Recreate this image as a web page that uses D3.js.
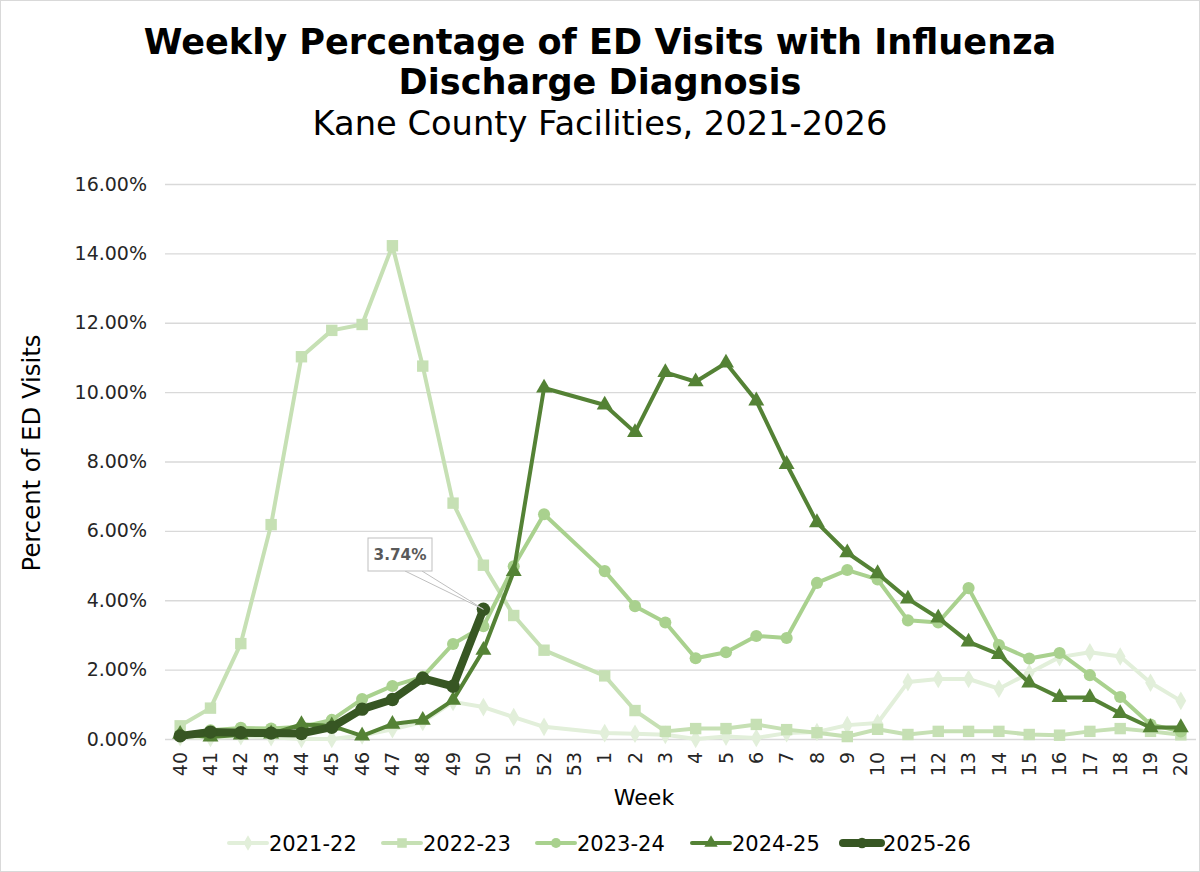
<!DOCTYPE html>
<html><head><meta charset="utf-8">
<script src="https://cdn.jsdelivr.net/npm/d3@7/dist/d3.min.js"></script>
<style>body{margin:0;background:#fff}svg{display:block}</style>
</head><body>
<svg id="c" width="1200" height="872"></svg>
<script>
const weeks = ["40","41","42","43","44","45","46","47","48","49","50","51","52","53","1","2","3","4","5","6","7","8","9","10","11","12","13","14","15","16","17","18","19","20"];
const yTicks = [0,2,4,6,8,10,12,14,16];
const s2122 = [0.05,0.03,0.08,0.05,0.00,0.00,0.10,0.28,0.49,1.07,0.92,0.63,0.35,null,0.17,0.15,0.12,0.00,0.07,0.03,0.17,0.20,0.40,0.46,1.64,1.73,1.73,1.45,1.90,2.36,2.50,2.38,1.62,1.10];
const s2223 = [0.38,0.89,2.75,6.18,11.02,11.78,11.95,14.22,10.75,6.80,5.01,3.56,2.56,null,1.82,0.82,0.22,0.30,0.30,0.42,0.27,0.18,0.07,0.28,0.13,0.22,0.22,0.22,0.13,0.11,0.22,0.30,0.22,0.12];
const s2324 = [0.12,0.25,0.32,0.30,0.35,0.55,1.15,1.53,1.79,2.74,3.25,4.98,6.48,null,4.84,3.83,3.36,2.33,2.50,2.97,2.91,4.50,4.87,4.60,3.42,3.36,4.35,2.71,2.32,2.48,1.84,1.21,0.42,0.22];
const s2425 = [0.14,0.06,0.12,0.15,0.42,0.38,0.09,0.43,0.54,1.12,2.56,4.83,10.12,null,9.63,8.84,10.57,10.30,10.84,9.75,7.92,6.24,5.37,4.77,4.04,3.49,2.80,2.44,1.62,1.20,1.20,0.74,0.33,0.33];
const s2526 = [0.09,0.20,0.18,0.17,0.16,0.34,0.86,1.14,1.75,1.52,3.74];
const seriesNames = ["2021-22","2022-23","2023-24","2024-25","2025-26"];
const seriesColors = ["#e2efda","#c6e0b4","#a9d18e","#548235","#375623"];
const seriesMarkers = ["diamond","square","circle","triangle","circle"];
const seriesWidths = [4,4,4,4,8];
const seriesValues = [s2122,s2223,s2324,s2425,s2526];
const calloutLabel = "3.74%";

const svg = d3.select("#c");
const W = 1200, H = 872;
svg.append("rect").attr("x",0.5).attr("y",0.5).attr("width",W-1).attr("height",H-1).attr("fill","#fff").attr("stroke","#d9d9d9");

const pLeft = 165, pRight = 1196, pTop = 184, pBottom = 739;
const x = d3.scaleBand().domain(weeks).range([pLeft,pRight]).padding(0);
const cx = w => x(w) + x.bandwidth()/2;
const y = d3.scaleLinear().domain([0,16]).range([pBottom,pTop]);
const FONT = "'DejaVu Sans', Verdana, sans-serif";

function fit(sel, target){
  const n = sel.node(); const fs = parseFloat(sel.attr("font-size"));
  const w = n.getComputedTextLength(); sel.attr("font-size", fs*target/w);
}

// Titles
fit(svg.append("text").attr("x",600).attr("y",54).attr("text-anchor","middle").attr("font-family",FONT).attr("font-weight","bold").attr("font-size",32).attr("fill","#000").text("Weekly Percentage of ED Visits with Influenza"), 913);
fit(svg.append("text").attr("x",600).attr("y",94).attr("text-anchor","middle").attr("font-family",FONT).attr("font-weight","bold").attr("font-size",32).attr("fill","#000").text("Discharge Diagnosis"), 403);
fit(svg.append("text").attr("x",600).attr("y",135).attr("text-anchor","middle").attr("font-family",FONT).attr("font-size",28).attr("fill","#000").text("Kane County Facilities, 2021-2026"), 575);

// Gridlines & y axis
const yAxis = d3.axisLeft(y).tickValues(yTicks).tickSize(-(pRight-pLeft)).tickPadding(18).tickFormat(d => d.toFixed(2)+"%");
const gy = svg.append("g").attr("transform",`translate(${pLeft},0)`).call(yAxis);
gy.select(".domain").remove();
gy.selectAll(".tick line").attr("stroke","#d9d9d9").attr("stroke-width",1.3);
gy.selectAll(".tick text").attr("font-family",FONT).attr("font-size",19).attr("fill","#262626");

// x axis
const xAxis = d3.axisBottom(x).tickSize(0).tickPadding(0);
const gx = svg.append("g").attr("transform",`translate(0,${pBottom})`).call(xAxis);
gx.select(".domain").remove();
gx.selectAll(".tick text").attr("font-family",FONT).attr("font-size",19).attr("fill","#262626")
  .attr("text-anchor","end").attr("transform","rotate(-90)").attr("x",-13).attr("y",0).attr("dy","0.35em");

// axis titles
fit(svg.append("text").attr("transform","translate(40,453) rotate(-90)").attr("text-anchor","middle").attr("font-family",FONT).attr("font-size",24).attr("fill","#000").text("Percent of ED Visits"), 237);
svg.append("text").attr("x",644).attr("y",805).attr("text-anchor","middle").attr("font-family",FONT).attr("font-size",22).attr("fill","#000").text("Week");

const symType = {diamond:d3.symbolDiamond, square:d3.symbolSquare, circle:d3.symbolCircle, triangle:d3.symbolTriangle};
const symSize = {diamond:100, square:130, circle:115, triangle:110};

const line = d3.line().x(d=>cx(d.w)).y(d=>y(d.v));
seriesValues.forEach((vals,i)=>{
  const pts = vals.map((v,j)=>({w:weeks[j],v})).filter(d=>d.v!==null && d.v!==undefined);
  const g = svg.append("g");
  g.append("path").attr("d",line(pts)).attr("fill","none").attr("stroke",seriesColors[i]).attr("stroke-width",seriesWidths[i]).attr("stroke-linejoin","round").attr("stroke-linecap","round");
  const m = seriesMarkers[i];
  g.selectAll("path.m").data(pts).join("path").attr("class","m")
    .attr("transform",d=>`translate(${cx(d.w)},${y(d.v)})`)
    .attr("d",d3.symbol().type(symType[m]).size(i===4?140:symSize[m]))
    .attr("fill",seriesColors[i]);
});

// callout for last 2025-26 point
const lastIdx = s2526.length-1;
const px = cx(weeks[lastIdx]), py = y(s2526[lastIdx]);
const bx = 368, by = 538, bw = 64, bh = 33;
svg.append("path").attr("d",`M${bx+37},${by+bh} L${px},${py} L${bx+54},${by+bh}`).attr("fill","#fff").attr("stroke","#bfbfbf").attr("stroke-width",1);
svg.append("rect").attr("x",bx).attr("y",by).attr("width",bw).attr("height",bh).attr("fill","#fff").attr("stroke","#bfbfbf").attr("stroke-width",1);
fit(svg.append("text").attr("x",bx+bw/2).attr("y",by+bh/2).attr("dy","0.36em").attr("text-anchor","middle").attr("font-family",FONT).attr("font-weight","bold").attr("font-size",16).attr("fill","#595959").text(calloutLabel), 53);

// legend
const legStarts = [229,383,537,692,843];
const lg = svg.append("g");
seriesNames.forEach((n,i)=>{
  const x0 = legStarts[i], yy = 843;
  lg.append("line").attr("x1",x0).attr("x2",x0+38).attr("y1",yy).attr("y2",yy).attr("stroke",seriesColors[i]).attr("stroke-width",seriesWidths[i]).attr("stroke-linecap","round");
  const m = seriesMarkers[i];
  lg.append("path").attr("transform",`translate(${x0+19},${yy})`).attr("d",d3.symbol().type(symType[m]).size(i===4?90:symSize[m]*0.7)).attr("fill",seriesColors[i]);
  lg.append("text").attr("x",x0+40).attr("y",yy).attr("dy","0.36em").attr("font-family",FONT).attr("font-size",21).attr("fill","#000").text(n);
});
</script>
</body></html>
